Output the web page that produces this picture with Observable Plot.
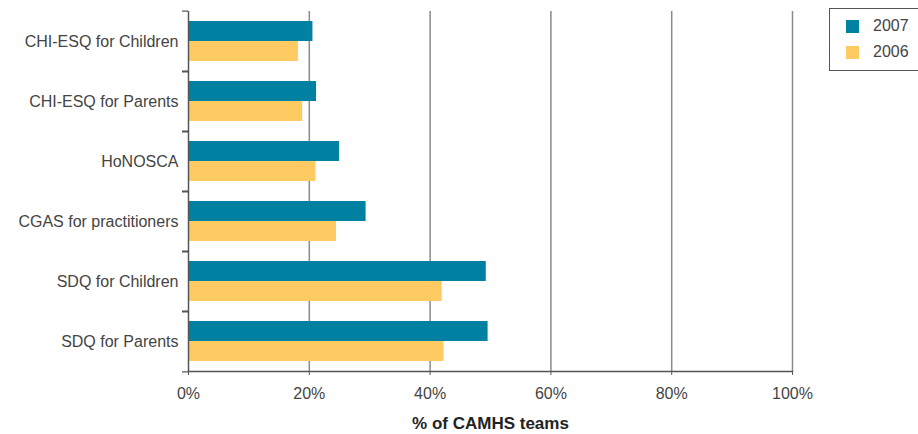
<!DOCTYPE html>
<html>
<head>
<meta charset="utf-8">
<script src="https://cdn.jsdelivr.net/npm/d3@7"></script>
<script src="https://cdn.jsdelivr.net/npm/@observablehq/plot@0.6"></script>
<style>
  body { margin: 0; background: #fff; font-family: "Liberation Sans", Arial, sans-serif; }
  #wrap { position: relative; width: 918px; height: 434px; }
  #legend { position: absolute; left: 829px; top: 8px; width: 95px; height: 63px; border: 1px solid #555; box-sizing: border-box; background: #fff; }
  .item { position: absolute; left: 16px; display: flex; align-items: center; font-size: 16px; color: #444; }
  .sw { width: 13px; height: 13px; margin-right: 14px; }
</style>
</head>
<body>
<div id="wrap"></div>
<script>
const categories = ["CHI-ESQ for Children", "CHI-ESQ for Parents", "HoNOSCA", "CGAS for practitioners", "SDQ for Children", "SDQ for Parents"];
const years = ["2007", "2006"];
const values2007 = [20.6, 21.2, 25.0, 29.4, 49.3, 49.6];
const values2006 = [18.2, 18.9, 21.1, 24.5, 42.0, 42.3];
const xTicks = [0, 20, 40, 60, 80, 100];
const colors = ["#0081a1", "#fecb63"];
const axisTitle = "% of CAMHS teams";

const data = [];
categories.forEach((c, i) => {
  data.push({category: c, year: "2007", value: values2007[i]});
  data.push({category: c, year: "2006", value: values2006[i]});
});

const W = 918, H = 434, mT = 8, mB = 61, mL = 188, mR = 126;
const step = (H - mT - mB) / categories.length;

const chart = Plot.plot({
  width: W, height: H,
  marginLeft: mL, marginRight: mR, marginTop: mT, marginBottom: mB,
  style: {fontFamily: "'Liberation Sans', Arial, sans-serif", fontSize: "16px", color: "#444"},
  x: {domain: [0, 100]},
  y: {domain: years, paddingInner: 0, paddingOuter: 0.45, axis: null},
  fy: {domain: categories, padding: 0},
  color: {domain: years, range: colors},
  marks: [
    Plot.gridX(xTicks.slice(1), {stroke: "#8a8a8a", strokeOpacity: 1, strokeWidth: 1.5}),
    Plot.barX(data, {x: "value", y: "year", fy: "category", fill: "year"}),
    Plot.ruleX([0], {stroke: "#555", strokeWidth: 1.5}),
    Plot.frame({anchor: "bottom", facetAnchor: "bottom", stroke: "#555", strokeWidth: 1.5}),
    Plot.axisX({ticks: xTicks, tickFormat: d => d + "%", tickSize: 4, tickPadding: 12, stroke: "#555", fill: "#444", fontSize: 16,
      label: axisTitle, labelAnchor: "center", labelArrow: "none", labelOffset: 57}),
    Plot.axisFy({anchor: "left", tickSize: 0, tickPadding: 10, label: null, fill: "#444", fontSize: 16}),
    Plot.axisFy({anchor: "left", tickSize: 6, tickFormat: () => "", label: null, dy: -step / 2, stroke: "#333"}),
    Plot.axisFy({anchor: "left", tickSize: 6, tickFormat: () => "", label: null, dy: step / 2, stroke: "#333"})
  ]
});

const wrap = document.getElementById("wrap");
wrap.appendChild(chart);
d3.select(chart).selectAll('[aria-label="x-axis label"] text')
  .style("font-weight", "bold").style("fill", "#222").style("font-size", "17px");

const legend = document.createElement("div");
legend.id = "legend";
years.forEach((y, i) => {
  const it = document.createElement("div");
  it.className = "item";
  it.style.top = (8 + i * 26) + "px";
  it.innerHTML = `<span class="sw" style="background:${colors[i]}"></span><span>${y}</span>`;
  legend.appendChild(it);
});
wrap.appendChild(legend);
</script>
</body>
</html>
